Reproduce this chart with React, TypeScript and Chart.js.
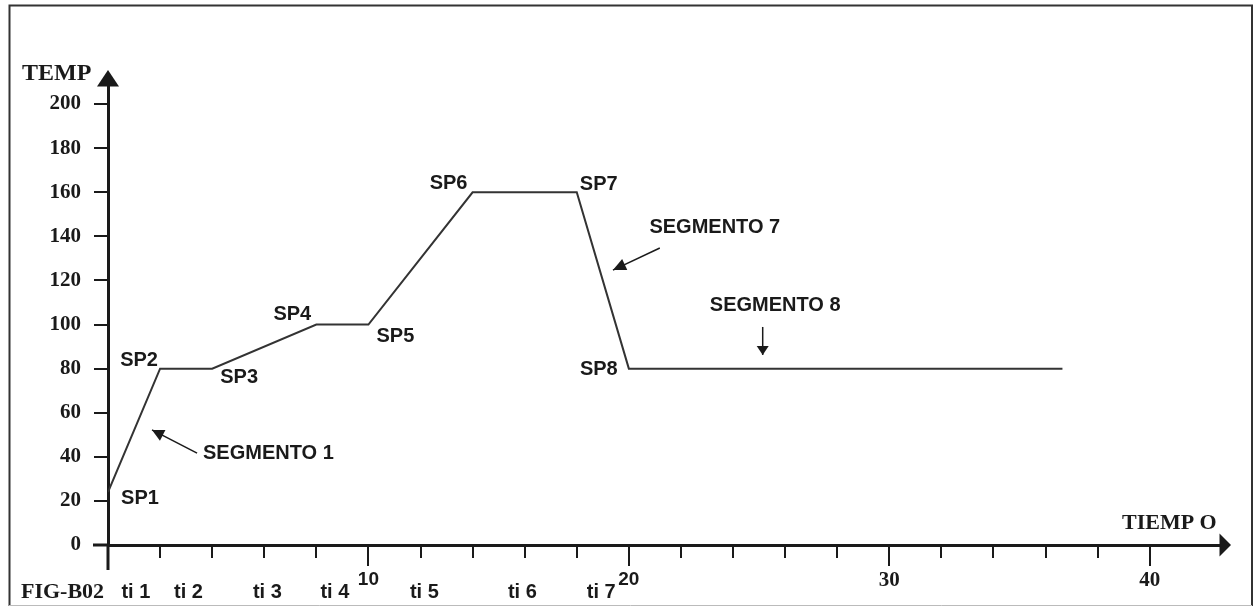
import React, { useEffect, useRef } from 'react';
import { Chart, registerables } from 'chart.js';

Chart.register(...registerables);

// ---- data ----
const timeValues = [0, 2, 4, 8, 10, 14, 18, 20, 36.65];
const tempValues = [24, 80, 80, 100, 100, 160, 160, 80, 80];
const pointLabels = ['SP1', 'SP2', 'SP3', 'SP4', 'SP5', 'SP6', 'SP7', 'SP8'];

const yTickValues = [0, 20, 40, 60, 80, 100, 120, 140, 160, 180, 200];
const xTickValues = [0, 2, 4, 6, 8, 10, 12, 14, 16, 18, 20, 22, 24, 26, 28, 30, 32, 34, 36, 38, 40];
const xLabelValues = [10, 20, 30, 40];
const xSerifLabelValues = [30, 40];

const tiLabels = ['ti 1', 'ti 2', 'ti 3', 'ti 4', 'ti 5', 'ti 6', 'ti 7'];
const tiPositions = [1.07, 3.09, 6.12, 8.71, 12.15, 15.91, 18.94];

const segmentLabels = ['SEGMENTO 1', 'SEGMENTO 7', 'SEGMENTO 8'];
const segmentLabelX = [6.16, 23.3, 25.62];
const segmentLabelY = [41.7, 143.8, 108.8];
const segmentArrowFromX = [3.42, 21.19, 25.14];
const segmentArrowFromY = [41.7, 134.7, 98.9];
const segmentArrowToX = [1.69, 19.39, 25.14];
const segmentArrowToY = [52.2, 124.7, 86.2];

const yAxisTitle = 'TEMP';
const xAxisTitle = 'TIEMP O';
const figureLabel = 'FIG-B02';

// ---- layout / style ----
const W = 1255;
const H = 607;
const X_MAX = 42.7;
const Y_MAX = 208.2;
const INK = '#1a1a1a';
const SANS = '"Liberation Sans", Arial, sans-serif';
const SERIF = '"Liberation Serif", "Times New Roman", serif';

// offsets of SP labels from their points (px)
const labelDx = [32, -21, 27, -24, 27, -24, 22, -30];
const labelDy = [6, -8, 9, -10, 12, -9, -8, 1];
const arrowHeadLen = [12, 13, 9];
const arrowHeadHalf = [6, 6, 6];

function drawArrowHead(ctx: CanvasRenderingContext2D, x1: number, y1: number, x2: number, y2: number, len: number, half: number) {
  const a = Math.atan2(y2 - y1, x2 - x1);
  const bx = x2 - len * Math.cos(a);
  const by = y2 - len * Math.sin(a);
  ctx.beginPath();
  ctx.moveTo(x2, y2);
  ctx.lineTo(bx + half * Math.sin(a), by - half * Math.cos(a));
  ctx.lineTo(bx - half * Math.sin(a), by + half * Math.cos(a));
  ctx.closePath();
  ctx.fill();
}

const decorPlugin = {
  id: 'decor',
  beforeDraw(chart: any) {
    const ctx = chart.ctx as CanvasRenderingContext2D;
    ctx.save();
    ctx.fillStyle = '#ffffff';
    ctx.fillRect(0, 0, W, H);
    ctx.strokeStyle = '#333333';
    ctx.lineWidth = 2;
    ctx.beginPath();
    ctx.moveTo(9.5, 606);
    ctx.lineTo(9.5, 5.5);
    ctx.lineTo(1252, 5.5);
    ctx.lineTo(1252, 606);
    ctx.stroke();
    ctx.strokeStyle = '#bbbbbb';
    ctx.lineWidth = 1;
    ctx.beginPath();
    ctx.moveTo(9, 605.5);
    ctx.lineTo(1252, 605.5);
    ctx.stroke();
    ctx.restore();
  },
  afterDraw(chart: any) {
    const ctx = chart.ctx as CanvasRenderingContext2D;
    const xs = chart.scales.x;
    const ys = chart.scales.y;
    const px = (v: number) => xs.getPixelForValue(v);
    const py = (v: number) => ys.getPixelForValue(v);
    const x0 = px(0);
    const y0 = py(0);
    ctx.save();
    ctx.strokeStyle = INK;
    ctx.fillStyle = INK;
    ctx.lineWidth = 3;
    ctx.beginPath();
    ctx.moveTo(x0, y0);
    ctx.lineTo(x0, 570);
    ctx.moveTo(93, y0);
    ctx.lineTo(x0, y0);
    ctx.stroke();
    const yTop = py(Y_MAX);
    ctx.beginPath();
    ctx.moveTo(x0, yTop - 16);
    ctx.lineTo(x0 - 11, yTop + 0.5);
    ctx.lineTo(x0 + 11, yTop + 0.5);
    ctx.closePath();
    ctx.fill();
    const xRight = px(X_MAX);
    ctx.beginPath();
    ctx.moveTo(xRight + 11, y0);
    ctx.lineTo(xRight - 0.5, y0 - 11.5);
    ctx.lineTo(xRight - 0.5, y0 + 11.5);
    ctx.closePath();
    ctx.fill();
    ctx.lineWidth = 2;
    ctx.beginPath();
    for (const v of xLabelValues) {
      const x = Math.round(px(v));
      ctx.moveTo(x, y0 + 10);
      ctx.lineTo(x, 566);
    }
    ctx.stroke();

    ctx.font = `bold 20px ${SANS}`;
    ctx.textAlign = 'center';
    ctx.textBaseline = 'middle';
    for (let i = 0; i < pointLabels.length; i++) {
      ctx.fillText(pointLabels[i], px(timeValues[i]) + labelDx[i], py(tempValues[i]) + labelDy[i]);
    }
    for (let i = 0; i < segmentLabels.length; i++) {
      ctx.fillText(segmentLabels[i], px(segmentLabelX[i]), py(segmentLabelY[i]));
      const ax1 = px(segmentArrowFromX[i]);
      const ay1 = py(segmentArrowFromY[i]);
      const ax2 = px(segmentArrowToX[i]);
      const ay2 = py(segmentArrowToY[i]);
      ctx.lineWidth = 1.5;
      ctx.beginPath();
      ctx.moveTo(ax1, ay1);
      ctx.lineTo(ax2, ay2);
      ctx.stroke();
      drawArrowHead(ctx, ax1, ay1, ax2, ay2, arrowHeadLen[i], arrowHeadHalf[i]);
    }
    for (let i = 0; i < tiLabels.length; i++) {
      ctx.fillText(tiLabels[i], px(tiPositions[i]), 592);
    }
    ctx.font = `bold 22px ${SERIF}`;
    ctx.textAlign = 'left';
    ctx.fillText(figureLabel, 21, 592);
    ctx.fillText(xAxisTitle, 1122, 523);
    ctx.font = `bold 24px ${SERIF}`;
    ctx.fillText(yAxisTitle, 22, 74);
    ctx.restore();
  },
};

export default function App() {
  const ref = useRef<HTMLCanvasElement | null>(null);
  useEffect(() => {
    if (!ref.current) return;
    const points = timeValues.map((t, i) => ({ x: t, y: tempValues[i] }));
    const chart = new Chart(ref.current, {
      type: 'scatter',
      data: {
        datasets: [
          {
            data: points,
            showLine: true,
            borderColor: '#333333',
            borderWidth: 2,
            pointRadius: 0,
            pointHoverRadius: 0,
            fill: false,
            tension: 0,
          },
        ],
      },
      options: {
        responsive: false,
        maintainAspectRatio: false,
        animation: false,
        events: [],
        layout: { padding: { left: 0, top: 86, right: 35, bottom: 0 } },
        plugins: { legend: { display: false }, tooltip: { enabled: false }, title: { display: false } },
        scales: {
          x: {
            type: 'linear',
            min: 0,
            max: X_MAX,
            afterBuildTicks: (s: any) => {
              s.ticks = xTickValues.map((v) => ({ value: v }));
            },
            afterFit: (s: any) => {
              s.height = 62;
            },
            border: { display: true, color: INK, width: 3 },
            grid: {
              display: true,
              drawOnChartArea: false,
              drawTicks: true,
              tickLength: 13,
              tickColor: INK,
              tickWidth: 2,
              lineWidth: 2,
            },
            ticks: {
              autoSkip: false,
              maxRotation: 0,
              minRotation: 0,
              padding: 10,
              color: INK,
              font: (c: any) => ({
                family: c.tick && xSerifLabelValues.includes(c.tick.value) ? SERIF : SANS,
                size: c.tick && xSerifLabelValues.includes(c.tick.value) ? 21 : 19,
                weight: 'bold',
              }),
              callback: (v: any) => {
                const n = Number(v);
                return xLabelValues.includes(n) ? String(n) : '';
              },
            },
          },
          y: {
            type: 'linear',
            min: 0,
            max: Y_MAX,
            afterBuildTicks: (s: any) => {
              s.ticks = yTickValues.map((v) => ({ value: v }));
            },
            afterFit: (s: any) => {
              s.width = 108;
            },
            border: { display: true, color: INK, width: 3 },
            grid: {
              display: true,
              drawOnChartArea: false,
              drawTicks: true,
              tickLength: 14,
              tickColor: INK,
              tickWidth: 2,
              lineWidth: 2,
            },
            ticks: {
              autoSkip: false,
              padding: 13,
              color: INK,
              font: { family: SERIF, size: 21, weight: 'bold' },
              callback: (v: any) => String(v),
            },
          },
        },
      },
      plugins: [decorPlugin],
    } as any);
    return () => chart.destroy();
  }, []);
  return (
    <div style={{ position: 'fixed', left: 0, top: 0, width: W, height: H, background: '#fff' }}>
      <canvas ref={ref} width={W} height={H} style={{ display: 'block', width: W, height: H }} />
    </div>
  );
}
